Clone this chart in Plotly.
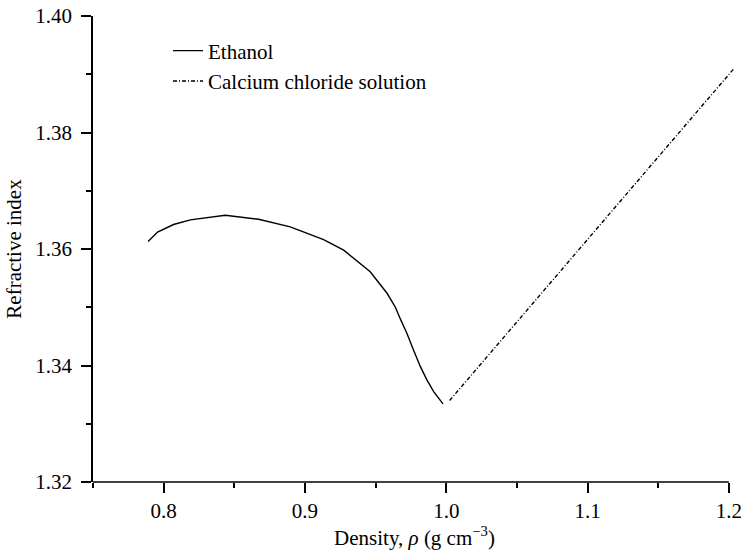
import plotly.graph_objects as go

# Data
ethanol_density = [0.789, 0.7957, 0.807, 0.8189, 0.8436, 0.8672, 0.8896, 0.9132,
                   0.9274, 0.9462, 0.9581, 0.964, 0.9675, 0.9722, 0.9769, 0.9817,
                   0.9864, 0.9911, 0.9977]
ethanol_index = [1.3613, 1.3629, 1.3642, 1.3650, 1.3658, 1.3651, 1.3638, 1.3616,
                 1.3598, 1.3561, 1.3524, 1.3500, 1.3480, 1.3455, 1.3426, 1.3398,
                 1.3375, 1.3355, 1.3334]

cacl2_density = [1.0024, 1.05, 1.10, 1.15, 1.2037]
cacl2_index = [1.3340, 1.3475, 1.3617, 1.3758, 1.3910]

x_ticks = [0.8, 0.9, 1.0, 1.1, 1.2]
x_ticklabels = ["0.8", "0.9", "1.0", "1.1", "1.2"]
y_ticks = [1.32, 1.34, 1.36, 1.38, 1.40]
y_ticklabels = ["1.32", "1.34", "1.36", "1.38", "1.40"]

FONT = "Liberation Serif"
FS = 21

fig = go.Figure()
fig.add_trace(go.Scatter(x=ethanol_density, y=ethanol_index, mode="lines",
                         name="Ethanol",
                         line=dict(color="black", width=1.4)))
fig.add_trace(go.Scatter(x=cacl2_density, y=cacl2_index, mode="lines",
                         name="Calcium chloride solution",
                         line=dict(color="black", width=1.4, dash="4px,2px,1px,2px")))

L, R, T, B = 93, 8, 15.5, 71
W, H = 744, 553
pw = W - L - R
ph = H - T - B

fig.update_layout(
    width=W, height=H,
    margin=dict(l=L, r=R, t=T, b=B, pad=0),
    paper_bgcolor="white", plot_bgcolor="white",
    font=dict(family=FONT, size=FS, color="black"),
    showlegend=True,
    legend=dict(x=(168 - L) / pw, y=1 - (30 - T) / ph,
                xanchor="left", yanchor="top",
                bgcolor="rgba(0,0,0,0)", borderwidth=0,
                font=dict(family=FONT, size=FS, color="black")),
    xaxis=dict(range=[0.75, 0.75 + pw / 1413.0], automargin=False,
               showline=False, showgrid=False, zeroline=False,
               tickmode="array", tickvals=x_ticks, ticktext=x_ticklabels,
               ticks="outside", ticklen=10, tickwidth=1.5, tickcolor="black",
               minor=dict(tickmode="array", tickvals=[0.75, 0.85, 0.95, 1.05, 1.15],
                          ticks="outside", ticklen=5, tickwidth=1.5, tickcolor="black"),
               tickfont=dict(family=FONT, size=FS, color="black"),
               title=dict(text="Density, <i>ρ</i> (g cm<sup>−3</sup>)",
                          font=dict(family=FONT, size=FS, color="black"), standoff=1)),
    yaxis=dict(range=[1.32, 1.40], automargin=False,
               showline=True, linecolor="black", linewidth=1.5,
               showgrid=False, zeroline=False,
               tickmode="array", tickvals=y_ticks, ticktext=y_ticklabels,
               ticks="outside", ticklen=10, tickwidth=1.5, tickcolor="black",
               ticklabelstandoff=5,
               minor=dict(tickmode="array", tickvals=[1.33, 1.35, 1.37, 1.39],
                          ticks="outside", ticklen=5, tickwidth=1.5, tickcolor="black"),
               tickfont=dict(family=FONT, size=FS, color="black"),
               title=dict(text="Refractive index",
                          font=dict(family=FONT, size=FS, color="black"), standoff=8)),
)

# x axis line only spanning 0.75 .. 1.2
fig.add_shape(type="line", xref="x", yref="paper", x0=0.75, x1=1.2, y0=0, y1=0,
              line=dict(color="black", width=1.5))

fig.write_html("out.html")
